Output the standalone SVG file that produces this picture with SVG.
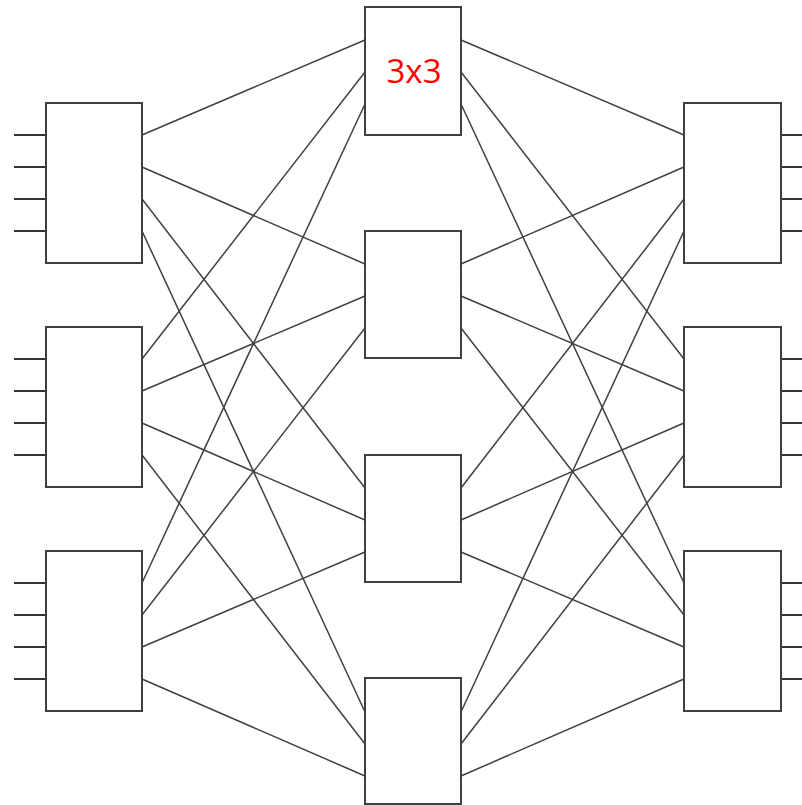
<svg xmlns="http://www.w3.org/2000/svg" width="802" height="805" viewBox="0 0 802 805">
<style>
.box{fill:#fff;stroke:#404040;stroke-width:2}
.ln{stroke:#404040;stroke-width:1.5;fill:none}
.port{stroke:#333;stroke-width:2}
.lbl{font-family:"Open Sans","Liberation Sans",sans-serif;font-size:33px;fill:#ff0000;text-anchor:middle}
</style>
<rect width="802" height="805" fill="#fff"/>
<g id="connectors" class="ln">
<line x1="142" y1="135" x2="365" y2="40"/>
<line x1="142" y1="167" x2="365" y2="264"/>
<line x1="142" y1="199" x2="365" y2="488"/>
<line x1="142" y1="231" x2="365" y2="712"/>
<line x1="142" y1="359" x2="365" y2="72"/>
<line x1="142" y1="391" x2="365" y2="296"/>
<line x1="142" y1="423" x2="365" y2="520"/>
<line x1="142" y1="455" x2="365" y2="744"/>
<line x1="142" y1="583" x2="365" y2="104"/>
<line x1="142" y1="615" x2="365" y2="328"/>
<line x1="142" y1="647" x2="365" y2="552"/>
<line x1="142" y1="679" x2="365" y2="776"/>
<line x1="684" y1="135" x2="461" y2="40"/>
<line x1="684" y1="167" x2="461" y2="264"/>
<line x1="684" y1="199" x2="461" y2="488"/>
<line x1="684" y1="231" x2="461" y2="712"/>
<line x1="684" y1="359" x2="461" y2="72"/>
<line x1="684" y1="391" x2="461" y2="296"/>
<line x1="684" y1="423" x2="461" y2="520"/>
<line x1="684" y1="455" x2="461" y2="744"/>
<line x1="684" y1="583" x2="461" y2="104"/>
<line x1="684" y1="615" x2="461" y2="328"/>
<line x1="684" y1="647" x2="461" y2="552"/>
<line x1="684" y1="679" x2="461" y2="776"/>
</g>
<g id="ports" class="port">
<line x1="14" y1="135" x2="46" y2="135"/><line x1="14" y1="167" x2="46" y2="167"/><line x1="14" y1="199" x2="46" y2="199"/><line x1="14" y1="231" x2="46" y2="231"/>
<line x1="14" y1="359" x2="46" y2="359"/><line x1="14" y1="391" x2="46" y2="391"/><line x1="14" y1="423" x2="46" y2="423"/><line x1="14" y1="455" x2="46" y2="455"/>
<line x1="14" y1="583" x2="46" y2="583"/><line x1="14" y1="615" x2="46" y2="615"/><line x1="14" y1="647" x2="46" y2="647"/><line x1="14" y1="679" x2="46" y2="679"/>
<line x1="781" y1="135" x2="802" y2="135"/><line x1="781" y1="167" x2="802" y2="167"/><line x1="781" y1="199" x2="802" y2="199"/><line x1="781" y1="231" x2="802" y2="231"/>
<line x1="781" y1="359" x2="802" y2="359"/><line x1="781" y1="391" x2="802" y2="391"/><line x1="781" y1="423" x2="802" y2="423"/><line x1="781" y1="455" x2="802" y2="455"/>
<line x1="781" y1="583" x2="802" y2="583"/><line x1="781" y1="615" x2="802" y2="615"/><line x1="781" y1="647" x2="802" y2="647"/><line x1="781" y1="679" x2="802" y2="679"/>
</g>
<g id="in1"><rect class="box" x="46" y="103" width="96" height="160"/></g>
<g id="in2"><rect class="box" x="46" y="327" width="96" height="160"/></g>
<g id="in3"><rect class="box" x="46" y="551" width="96" height="160"/></g>
<g id="mid1"><rect class="box" x="365" y="7" width="96" height="128"/><text class="lbl" x="414" y="83">3x3</text></g>
<g id="mid2"><rect class="box" x="365" y="231" width="96" height="127"/></g>
<g id="mid3"><rect class="box" x="365" y="455" width="96" height="127"/></g>
<g id="mid4"><rect class="box" x="365" y="678" width="96" height="126"/></g>
<g id="out1"><rect class="box" x="684" y="103" width="97" height="160"/></g>
<g id="out2"><rect class="box" x="684" y="327" width="97" height="160"/></g>
<g id="out3"><rect class="box" x="684" y="551" width="97" height="160"/></g>
</svg>
